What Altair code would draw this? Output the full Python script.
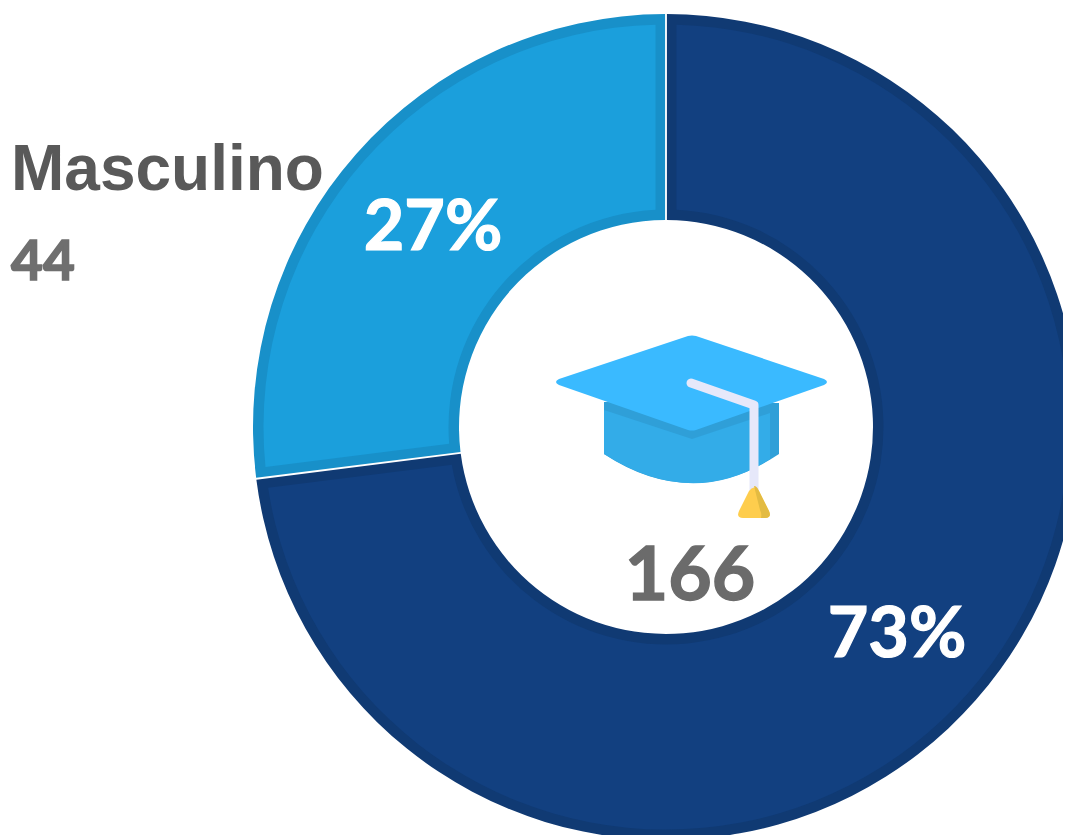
import altair as alt
import pandas as pd

categories = ["Femenino", "Masculino"]
shares = [73, 27]
base_colors = ["#103a73", "#1890c9"]
inner_colors = ["#124080", "#1b9fdc"]
share_labels = ["73%", "27%"]

legend_name = "Masculino"
legend_count = "44"
total_label = "166"

W, H = 1055, 827
CX, CY = 658, 419
R_OUT, R_IN = 413, 207
BAND = 10.5

df = pd.DataFrame({"cat": categories, "share": shares, "order": [0, 1],
                   "base": base_colors, "inner": inner_colors})

theta = alt.Theta("share:Q", stack=True, scale=alt.Scale(domain=[0, sum(shares)], range=[0, 6.283185307]))
order = alt.Order("order:Q")
xc, yc = alt.value(CX), alt.value(CY)

base = alt.Chart(df).mark_arc(radius=R_OUT, radius2=R_IN, padAngle=0.004).encode(
    theta=theta, order=order, x=xc, y=yc,
    color=alt.Color("base:N", scale=None),
)
inner = alt.Chart(df).mark_arc(radius=R_OUT - BAND, radius2=R_IN + BAND, padAngle=0.0459).encode(
    theta=theta, order=order, x=xc, y=yc,
    color=alt.Color("inner:N", scale=None),
)


def label(text, x, y, size, color, font="Lato", align="center", thicken=0):
    d = pd.DataFrame({"t": [text]})
    return alt.Chart(d).mark_text(
        font=font, fontWeight="bold", fontSize=size, align=align, baseline="alphabetic",
        stroke=color, strokeWidth=thicken
    ).encode(text="t:N", x=alt.value(x), y=alt.value(y), color=alt.value(color))


texts = [
    label(share_labels[0], 889, 649, 70, "#ffffff", thicken=1.2),
    label(share_labels[1], 425, 242, 70, "#ffffff", thicken=1.2),
    label(total_label, 682, 592, 75, "#6b6b6b", thicken=1.4),
    label(legend_name, 3, 182, 64, "#595959", font="Liberation Sans", align="left"),
    label(legend_count, 3, 272, 55, "#6f6f6f", align="left", thicken=1.6),
]

# graduation cap icon, paths relative to the icon anchor
IX, IY = 684, 418
cap_back = [
    ("#2f9fd8", "M-88,-24 L87,-23 L87,28 Q0,86 -88,28 Z"),
    ("#33ace8", "M-88,-16 L0,13 L78,-13 L78,33 Q0,84 -88,28 Z"),
    ("#3abaff", "M-4,-90 Q0,-91 4,-90 L132,-47 Q138,-44 132,-41 L4,4 Q0,5 -4,4 L-133,-41 Q-139,-44 -133,-47 Z"),
]
cap_string = "M-1,-43 L62,-21 L62,64"
cap_front = [
    ("#fecd4d", "M57,65 Q62,58 67,65 L77,85 Q80,92 73,92 L51,92 Q44,92 47,85 Z"),
    ("#e3bb42", "M62,60 Q65,60 67,65 L77,85 Q80,92 73,92 L69,92 Q70,88 68,84 Z"),
]


def filled(col, path):
    return alt.Chart(df.head(1)).mark_point(
        shape=path, size=4, filled=True, fill=col, strokeWidth=0, opacity=1
    ).encode(x=alt.value(IX), y=alt.value(IY))


icon = [filled(c, p) for c, p in cap_back]
icon.append(alt.Chart(df.head(1)).mark_point(
    shape=cap_string, size=4, filled=False, stroke="#e6e8fa", strokeWidth=9,
    strokeCap="round", strokeJoin="round", opacity=1
).encode(x=alt.value(IX), y=alt.value(IY)))
icon += [filled(c, p) for c, p in cap_front]

chart = alt.layer(base, inner, *icon, *texts).properties(
    width=W, height=H, padding=0, autosize=alt.AutoSizeParams(type="none"), background="#ffffff"
).configure_view(stroke=None)

chart.save("out.html", embed_options={"renderer": "svg", "actions": False})
